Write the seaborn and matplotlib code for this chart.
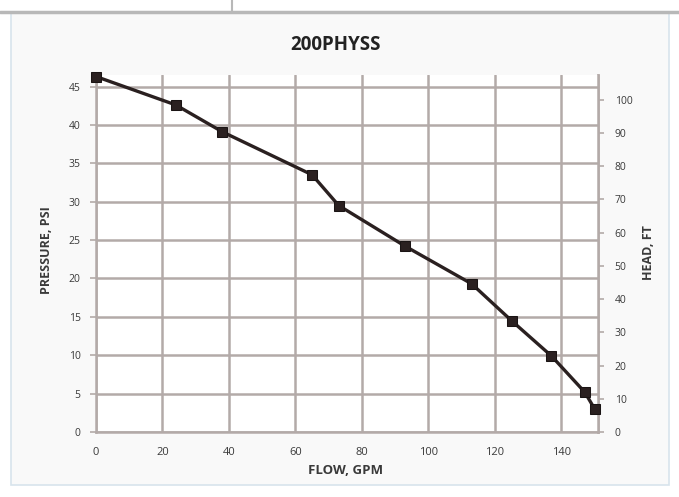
import numpy as np
import pandas as pd
import matplotlib
matplotlib.use("Agg")
import matplotlib.pyplot as plt
import seaborn as sns
from matplotlib.lines import Line2D
from matplotlib.patches import Rectangle

# pump curve values
flow_gpm = [0, 24, 38, 65, 73, 93, 113, 125, 137, 147, 150]
pressure_psi = [46.3, 42.6, 39.1, 33.5, 29.5, 24.2, 19.3, 14.5, 9.9, 5.2, 3.0]
x_ticks = [0, 20, 40, 60, 80, 100, 120, 140]
psi_ticks = [0, 5, 10, 15, 20, 25, 30, 35, 40, 45]
ft_ticks = [0, 10, 20, 30, 40, 50, 60, 70, 80, 90, 100]
PSI_TO_FT = 2.31

df = pd.DataFrame({"flow": flow_gpm, "psi": pressure_psi})

sns.set_style("white")
plt.rcParams['font.family'] = ['Open Sans', 'DejaVu Sans']

grid_c = '#b3aaa8'
txt_c = '#3a3a3a'

fig = plt.figure(figsize=(6.79, 4.97), dpi=100)
fig.patch.set_facecolor('white')

# page decoration: table strip on top and chart frame
fig.add_artist(Rectangle((11 / 679, 12 / 497), 658 / 679, 473 / 497, transform=fig.transFigure,
                         facecolor='#f9f9f9', edgecolor='#d8e4ec', lw=1.2, zorder=-5))
fig.add_artist(Line2D([0, 1], [1 - 11.5 / 497] * 2, transform=fig.transFigure, color='#b8b8b8', lw=2.5))
fig.add_artist(Line2D([232 / 679] * 2, [1 - 11 / 497, 1], transform=fig.transFigure, color='#b8b8b8', lw=1.5))

ax = fig.add_axes([96 / 679, 65 / 497, 502 / 679, 357 / 497])
ax.set_facecolor('white')

sns.lineplot(data=df, x='flow', y='psi', ax=ax, color='#2a2020', lw=2.4,
             marker='s', markersize=7.5, markeredgecolor='#1a1414', zorder=5, clip_on=False)

ax.set_xlim(0, 151)
ax.set_ylim(0, 46.5)
ax.set_xticks(x_ticks)
ax.set_yticks(psi_ticks)
ax.set_xticklabels([str(v) for v in x_ticks], fontsize=8, color=txt_c)
ax.set_yticklabels([str(v) for v in psi_ticks], fontsize=7.5, color=txt_c)
ax.grid(True, color=grid_c, lw=1.8)
ax.set_axisbelow(True)
ax.spines['top'].set_visible(False)
for s in ['left', 'bottom', 'right']:
    ax.spines[s].set_color(grid_c)
    ax.spines[s].set_linewidth(1.8)
ax.tick_params(axis='both', length=4, width=1.2, color=grid_c, pad=7)
ax.set_xlabel('')
ax.set_ylabel('')

ax2 = ax.twinx()
ax2.set_ylim(0, 46.5 * PSI_TO_FT)
ax2.set_yticks(ft_ticks)
ax2.set_yticklabels([str(v) for v in ft_ticks], fontsize=7.5, color=txt_c)
ax2.tick_params(axis='y', length=4, width=1.2, color=grid_c, pad=8)
for s in ['top', 'left', 'bottom']:
    ax2.spines[s].set_visible(False)
ax2.spines['right'].set_color(grid_c)
ax2.spines['right'].set_linewidth(1.8)
# keep the curve above the twin axis so the last marker is not covered
ax.set_zorder(ax2.get_zorder() + 1)

fig.text(336 / 679, 1 - 45 / 497, '200PHYSS', ha='center', va='center',
         fontsize=13.5, fontweight='bold', color='#222222')
fig.text(346 / 679, 1 - 470 / 497, 'FLOW, GPM', ha='center', va='center',
         fontsize=9.5, fontweight='bold', color=txt_c)
fig.text(46 / 679, 1 - 250 / 497, 'PRESSURE, PSI', ha='center', va='center',
         rotation=90, fontsize=9, fontweight='bold', color=txt_c)
fig.text(648 / 679, 1 - 253 / 497, 'HEAD, FT', ha='center', va='center',
         rotation=90, fontsize=9, fontweight='bold', color=txt_c)

fig.savefig('out.png', dpi=100)
